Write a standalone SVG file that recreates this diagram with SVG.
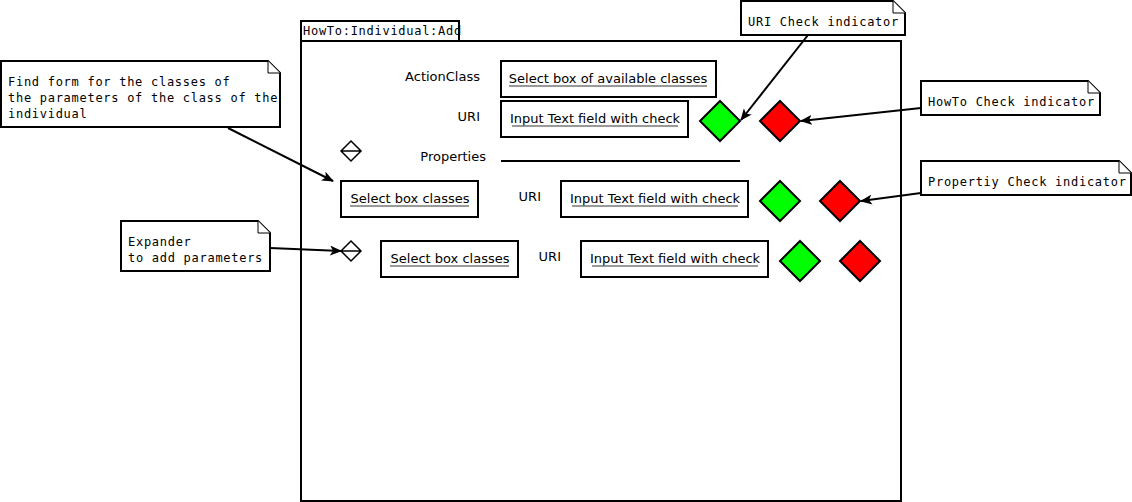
<svg xmlns="http://www.w3.org/2000/svg" width="1132" height="502" viewBox="0 0 1132 502">
<defs>
<style>
.box{fill:#fff;stroke:#000;stroke-width:2}
.mono{font-family:"DejaVu Sans Mono","Liberation Mono",monospace;font-size:12px;letter-spacing:0.72px;fill:#000}
.sans{font-family:"DejaVu Sans","Liberation Sans",sans-serif;font-size:13px;fill:#000}
.ul{stroke:#777;stroke-width:1.5}
.green{fill:#00ff00;stroke:#000;stroke-width:2}
.red{fill:#ff0000;stroke:#000;stroke-width:2}
.note{fill:#fff;stroke:#000;stroke-width:2}
.fold{fill:#fff;stroke:#000;stroke-width:1}
.conn{fill:none;stroke:#000;stroke-width:2}
</style>
<marker id="arr" viewBox="0 0 12 10" refX="11" refY="5" markerWidth="12" markerHeight="10" markerUnits="userSpaceOnUse" orient="auto">
<path d="M0,0 L12,5 L0,10 L3,5 Z" fill="#000"/>
</marker>
</defs>

<g id="frame">
<rect x="301" y="41" width="600" height="460" fill="#fff" stroke="#000" stroke-width="2"/>
<rect x="301" y="21" width="158" height="20" fill="none" stroke="#000" stroke-width="2"/>
<text class="mono" x="303" y="35">HowTo:Individual:Add</text>
</g>

<g id="actionclass">
<text class="sans" x="480" y="81" text-anchor="end">ActionClass</text>
<rect class="box" x="501" y="61" width="215" height="36"/>
<text class="sans" x="608" y="83" text-anchor="middle">Select box of available classes</text>
<line class="ul" x1="509" y1="86" x2="707" y2="86"/>
</g>

<g id="uri1">
<text class="sans" x="480" y="121" text-anchor="end">URI</text>
<rect class="box" x="501" y="101" width="187" height="36"/>
<text class="sans" x="595" y="123" text-anchor="middle">Input Text field with check</text>
<line class="ul" x1="512" y1="126" x2="678" y2="126"/>
</g>

<g id="uri1-check"><path class="green" d="M720,101 L740,121 L720,141 L700,121 Z"/></g>
<g id="howto-check"><path class="red" d="M780,101 L800,121 L780,141 L760,121 Z"/></g>

<g id="expander1">
<path d="M351,141 L361,151 L351,161 L341,151 Z M341,151 L361,151" fill="#fff" stroke="#000" stroke-width="1.5"/>
</g>

<g id="properties">
<text class="sans" x="486" y="161" text-anchor="end">Properties</text>
<line x1="501" y1="161" x2="740" y2="161" stroke="#000" stroke-width="2"/>
</g>

<g id="param1">
<rect class="box" x="341" y="181" width="137" height="36"/>
<text class="sans" x="410" y="203" text-anchor="middle">Select box classes</text>
<line class="ul" x1="350" y1="206" x2="469" y2="206"/>
<text class="sans" x="541" y="201" text-anchor="end">URI</text>
<rect class="box" x="561" y="181" width="187" height="36"/>
<text class="sans" x="655" y="203" text-anchor="middle">Input Text field with check</text>
<line class="ul" x1="572" y1="206" x2="738" y2="206"/>
<path class="green" d="M780,181 L800,201 L780,221 L760,201 Z"/>
<path class="red" d="M840,181 L860,201 L840,221 L820,201 Z"/>
</g>

<g id="expander2">
<path d="M351,241 L361,251 L351,261 L341,251 Z M341,251 L361,251" fill="#fff" stroke="#000" stroke-width="1.5"/>
</g>

<g id="param2">
<rect class="box" x="381" y="241" width="137" height="36"/>
<text class="sans" x="450" y="263" text-anchor="middle">Select box classes</text>
<line class="ul" x1="390" y1="266" x2="509" y2="266"/>
<text class="sans" x="561" y="261" text-anchor="end">URI</text>
<rect class="box" x="581" y="241" width="187" height="36"/>
<text class="sans" x="675" y="263" text-anchor="middle">Input Text field with check</text>
<line class="ul" x1="592" y1="266" x2="758" y2="266"/>
<path class="green" d="M800,241 L820,261 L800,281 L780,261 Z"/>
<path class="red" d="M860,241 L880,261 L860,281 L840,261 Z"/>
</g>

<g id="note-findform">
<path class="note" d="M1,61 L268,61 L280,73 L280,127 L1,127 Z"/>
<path class="fold" d="M268,61 L268,73 L280,73"/>
<text class="mono" x="8" y="86">Find form for the classes of</text>
<text class="mono" x="8" y="102">the parameters of the class of the</text>
<text class="mono" x="8" y="118">individual</text>
</g>

<g id="note-expander">
<path class="note" d="M121,221 L258,221 L270,233 L270,271 L121,271 Z"/>
<path class="fold" d="M258,221 L258,233 L270,233"/>
<text class="mono" x="128" y="246">Expander</text>
<text class="mono" x="128" y="262">to add parameters</text>
</g>

<g id="note-uri">
<path class="note" d="M741,1 L893,1 L905,13 L905,35 L741,35 Z"/>
<path class="fold" d="M893,1 L893,13 L905,13"/>
<text class="mono" x="748" y="26">URI Check indicator</text>
</g>

<g id="note-howto">
<path class="note" d="M921,81 L1088,81 L1100,93 L1100,115 L921,115 Z"/>
<path class="fold" d="M1088,81 L1088,93 L1100,93"/>
<text class="mono" x="928" y="106">HowTo Check indicator</text>
</g>

<g id="note-property">
<path class="note" d="M921,161 L1119,161 L1131,173 L1131,195 L921,195 Z"/>
<path class="fold" d="M1119,161 L1119,173 L1131,173"/>
<text class="mono" x="928" y="186">Propertiy Check indicator</text>
</g>

<g id="connectors">
<line class="conn" x1="228" y1="128" x2="333" y2="181" marker-end="url(#arr)"/>
<line class="conn" x1="270" y1="248" x2="341" y2="251" marker-end="url(#arr)"/>
<line class="conn" x1="808" y1="35" x2="741" y2="120" marker-end="url(#arr)"/>
<line class="conn" x1="921" y1="108" x2="801" y2="121" marker-end="url(#arr)"/>
<line class="conn" x1="921" y1="193" x2="861" y2="201" marker-end="url(#arr)"/>
</g>
</svg>
